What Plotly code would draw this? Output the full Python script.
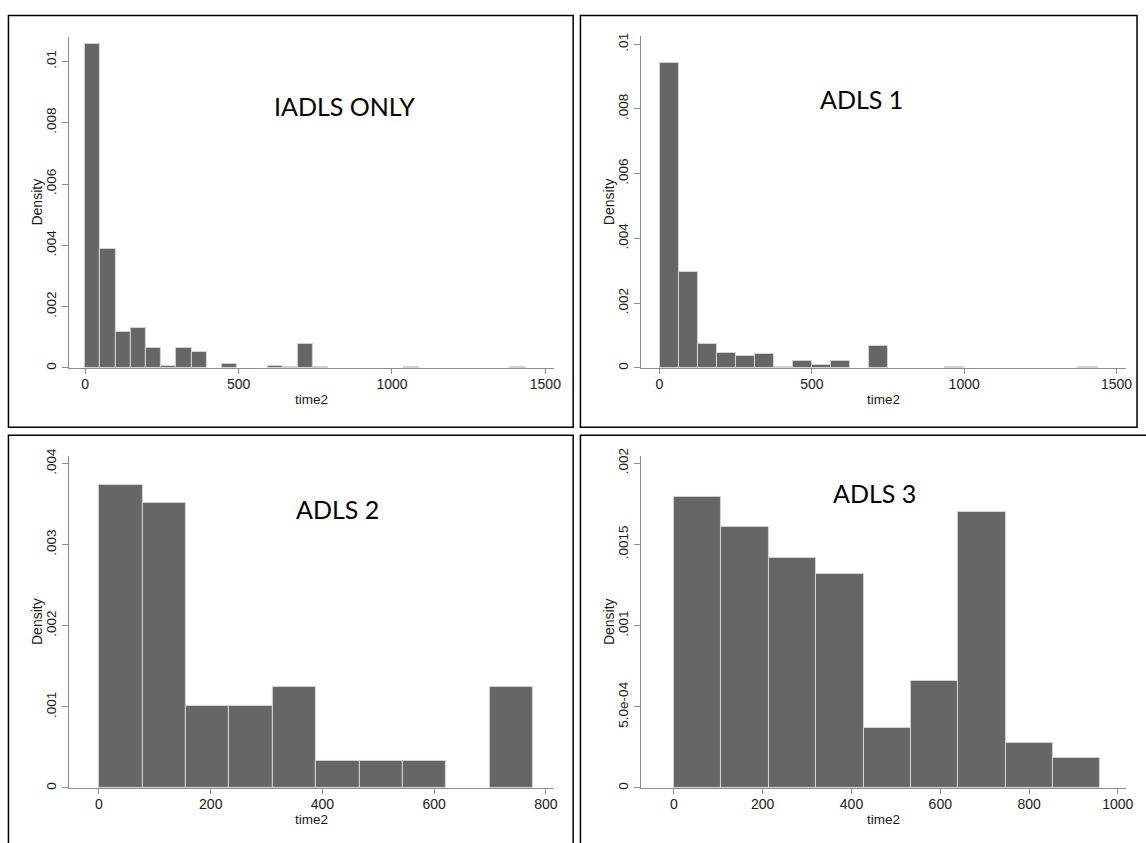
import plotly.graph_objects as go

W, H = 1146, 843

# ---------------- data ----------------
panel_labels = ["IADLS ONLY", "ADLS 1", "ADLS 2", "ADLS 3"]

iadls_bin_width = 49.5
iadls_density = [0.01058, 0.00387, 0.00119, 0.00130, 0.000666, 0.0000645, 0.000645,
                 0.000526, 0.0, 0.000129, 0.0, 0.0, 0.0000645, 0.00004, 0.000773,
                 0.00003, 0.0, 0.0, 0.0, 0.0, 0.0, 0.00003, 0.0, 0.0, 0.0, 0.0,
                 0.0, 0.0, 0.00003]

adls1_bin_width = 62.5
adls1_density = [0.00941, 0.00298, 0.000743, 0.000468, 0.000366, 0.000427, 0.00004,
                 0.000224, 0.00008, 0.000224, 0.0, 0.000671, 0.0, 0.0, 0.0, 0.00004,
                 0.0, 0.0, 0.0, 0.0, 0.0, 0.0, 0.00004]

adls2_bin_width = 77.7
adls2_density = [0.00374, 0.003512, 0.001012, 0.001012, 0.00124, 0.000329, 0.000329,
                 0.000329, 0.0, 0.00124]

adls3_bin_width = 106.75
adls3_density = [0.001795, 0.001608, 0.001417, 0.001321, 0.000372, 0.000659,
                 0.001703, 0.00028, 0.000183]

x_tickvals_1500 = [0, 500, 1000, 1500]
x_tickvals_800 = [0, 200, 400, 600, 800]
x_tickvals_1000 = [0, 200, 400, 600, 800, 1000]

y_tickvals_01 = [0, 0.002, 0.004, 0.006, 0.008, 0.01]
y_ticktext_01 = ["0", ".002", ".004", ".006", ".008", ".01"]
y_tickvals_004 = [0, 0.001, 0.002, 0.003, 0.004]
y_ticktext_004 = ["0", ".001", ".002", ".003", ".004"]
y_tickvals_002 = [0, 0.0005, 0.001, 0.0015, 0.002]
y_ticktext_002 = ["0", "5.0e-04", ".001", ".0015", ".002"]

# ---------------- layout helpers ----------------
def px_x(p):
    return p / W

def px_y(p):
    return 1 - p / H

panels = [
    dict(dens=iadls_density, bw=iadls_bin_width,
         xdom=(69.3, 557.0), ydom=(364.3, 29.3), xr=(-53.1, 1526.9), yr=(0, 0.010796),
         xt=x_tickvals_1500, yt=y_tickvals_01, ytt=y_ticktext_01,
         label_pos=(347, 99), box=(8.5, 7.5, 576.7, 424.3)),
    dict(dens=adls1_density, bw=adls1_bin_width,
         xdom=(644.9, 1132.5), ydom=(364.3, 28.3), xr=(-60.7, 1529.7), yr=(0, 0.010256),
         xt=x_tickvals_1500, yt=y_tickvals_01, ytt=y_ticktext_01,
         label_pos=(867, 92), box=(584.0, 7.5, 1144.0, 424.3)),
    dict(dens=adls2_density, bw=adls2_bin_width,
         xdom=(69.3, 556.6), ydom=(789.3, 453.3), xr=(-53.9, 813.0), yr=(0, 0.004094),
         xt=x_tickvals_800, yt=y_tickvals_004, ytt=y_ticktext_004,
         label_pos=(340, 507), box=(8.5, 432.3, 576.7, 860)),
    dict(dens=adls3_density, bw=adls3_bin_width,
         xdom=(644.9, 1133.0), ydom=(789.3, 453.3), xr=(-74.3, 1018.6), yr=(0, 0.002045),
         xt=x_tickvals_1000, yt=y_tickvals_002, ytt=y_ticktext_002,
         label_pos=(880, 491), box=(584.0, 432.3, 1160, 860)),
]

AXIS_COLOR = "#8c8c8c"
BAR_FILL = "#666666"
BAR_EDGE = "#d4d4d4"
TICK_FONT = dict(family="Liberation Sans, Arial, sans-serif", size=14, color="#1a1a1a")

fig = go.Figure()
layout = dict(width=W, height=H, margin=dict(l=0, r=0, t=0, b=0),
              paper_bgcolor="white", plot_bgcolor="white", showlegend=False,
              bargap=0)
annotations = []
shapes = []

for i, p in enumerate(panels, start=1):
    xa = "x" if i == 1 else f"x{i}"
    ya = "y" if i == 1 else f"y{i}"
    n = len(p["dens"])
    centers = [p["bw"] * (k + 0.5) for k in range(n)]
    heights = [v if v > 0 else None for v in p["dens"]]
    fig.add_trace(go.Bar(x=centers, y=heights, width=[p["bw"]] * n,
                         marker=dict(color=BAR_FILL, line=dict(color=BAR_EDGE, width=1)),
                         xaxis=xa, yaxis=ya, hoverinfo="x+y"))

    xkey = "xaxis" if i == 1 else f"xaxis{i}"
    ykey = "yaxis" if i == 1 else f"yaxis{i}"
    layout[xkey] = dict(domain=[px_x(p["xdom"][0]), px_x(p["xdom"][1])],
                        range=list(p["xr"]), anchor=ya,
                        showline=True, linecolor=AXIS_COLOR, linewidth=1.2,
                        ticks="outside", ticklen=5, tickwidth=1.2, tickcolor=AXIS_COLOR,
                        tickvals=p["xt"], ticktext=[str(v) for v in p["xt"]],
                        ticklabelstandoff=-2,
                        tickfont=TICK_FONT, showgrid=False, zeroline=False)
    layout[ykey] = dict(domain=[px_y(p["ydom"][0]), px_y(p["ydom"][1])],
                        range=list(p["yr"]), anchor=xa,
                        showline=True, linecolor=AXIS_COLOR, linewidth=1.2,
                        ticks="outside", ticklen=6, tickwidth=1.2, tickcolor=AXIS_COLOR,
                        tickvals=p["yt"], ticktext=p["ytt"], tickangle=-90,
                        tickfont=dict(TICK_FONT, size=13.5), showgrid=False, zeroline=False)

    # axis titles
    xmid = (p["xdom"][0] + p["xdom"][1]) / 2
    annotations.append(dict(text="time2", xref="paper", yref="paper",
                            x=px_x(xmid), y=px_y(p["ydom"][0] + 32),
                            xanchor="center", yanchor="middle", showarrow=False,
                            font=dict(TICK_FONT, size=13.5)))
    ymid = (p["ydom"][0] + p["ydom"][1]) / 2
    annotations.append(dict(text="Density", xref="paper", yref="paper",
                            x=px_x(p["xdom"][0] - 32), y=px_y(ymid),
                            xanchor="center", yanchor="middle", showarrow=False,
                            textangle=-90, font=TICK_FONT))
    # panel label
    annotations.append(dict(text=panel_labels[i - 1], xref="paper", yref="paper",
                            x=px_x(p["label_pos"][0]), y=px_y(p["label_pos"][1]),
                            xanchor="center", yanchor="middle", showarrow=False,
                            font=dict(family="Lato, Carlito, sans-serif", size=25,
                                      color="black")))
    # panel border
    bx0, by0, bx1, by1 = p["box"]
    shapes.append(dict(type="rect", xref="paper", yref="paper",
                       x0=px_x(bx0), x1=px_x(bx1), y0=px_y(by1), y1=px_y(by0),
                       line=dict(color="black", width=1.5), layer="above"))

layout["annotations"] = annotations
layout["shapes"] = shapes
fig.update_layout(**layout)
fig.write_html("out.html", config={"displayModeBar": False},
               post_script="document.body.style.margin='0';document.body.style.padding='0';")
